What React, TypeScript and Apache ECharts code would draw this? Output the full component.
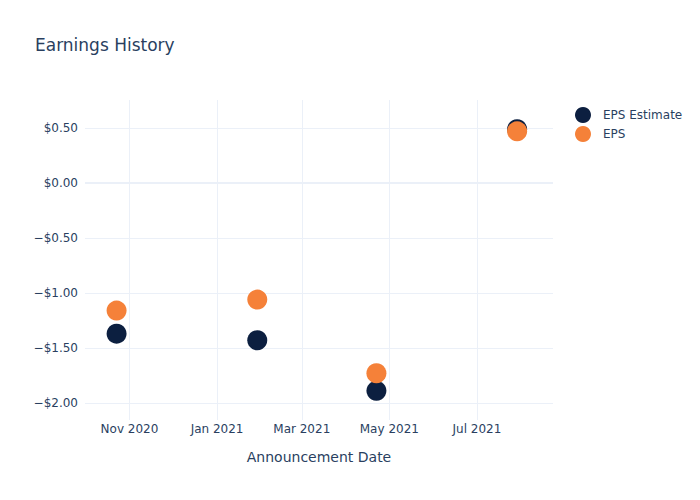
import React, { useEffect, useRef } from "react";
import * as echarts from "echarts";

const dates = ["2020-10-23", "2021-01-29", "2021-04-22", "2021-07-29"];
const epsEstimate = [-1.37, -1.43, -1.89, 0.49];
const eps = [-1.16, -1.06, -1.73, 0.47];
const monthNames = ["Jan", "Feb", "Mar", "Apr", "May", "Jun", "Jul", "Aug", "Sep", "Oct", "Nov", "Dec"];

const FONT = "DejaVu Sans";
const TEXT = "#2a3f5f";
const GRID = "#EBF0F8";

export default function App() {
  const ref = useRef<HTMLDivElement>(null);
  useEffect(() => {
    if (!ref.current) return;
    const chart = echarts.init(ref.current, undefined, { renderer: "svg" });
    chart.setOption({
      animation: false,
      backgroundColor: "#ffffff",
      textStyle: { fontFamily: FONT },
      title: {
        text: "Earnings History",
        left: 30,
        top: 31,
        textStyle: { fontFamily: FONT, fontSize: 17, fontWeight: "normal", color: TEXT },
      },
      legend: {
        orient: "vertical",
        left: 570,
        top: 102,
        itemGap: 3,
        itemWidth: 16,
        itemHeight: 16,
        icon: "circle",
        textStyle: { fontFamily: FONT, fontSize: 12, color: TEXT, padding: [0, 0, 0, 7] },
        data: ["EPS Estimate", "EPS"],
      },
      grid: { left: 85, right: 147, top: 100, bottom: 80, containLabel: false },
      xAxis: {
        type: "time",
        min: new Date("2020-10-01").getTime(),
        max: new Date("2021-08-23").getTime(),
        splitNumber: 5,
        name: "Announcement Date",
        nameLocation: "middle",
        nameGap: 30,
        nameTextStyle: { fontFamily: FONT, fontSize: 14, color: TEXT },
        axisLine: { show: false },
        axisTick: { show: false },
        axisLabel: {
          margin: 3,
          fontFamily: FONT,
          fontSize: 12,
          color: TEXT,
          showMinLabel: false,
          showMaxLabel: false,
          formatter: (v: number) => {
            const d = new Date(v);
            return `${monthNames[d.getMonth()]} ${d.getFullYear()}`;
          },
        },
        splitLine: { show: true, showMinLine: false, showMaxLine: false, lineStyle: { color: GRID, width: 1 } },
        minorTick: { show: false },
      },
      yAxis: {
        type: "value",
        min: -2.155,
        max: 0.755,
        splitNumber: 6,
        axisLine: { show: false },
        axisTick: { show: false },
        axisLabel: {
          margin: 7,
          fontFamily: FONT,
          fontSize: 12,
          color: TEXT,
          showMinLabel: false,
          showMaxLabel: false,
          formatter: (v: number) => (v < 0 ? "\u2212$" : "$") + Math.abs(v).toFixed(2),
        },
        splitLine: { show: true, showMinLine: false, showMaxLine: false, lineStyle: { color: GRID, width: 1 } },
      },
      series: [
        {
          name: "EPS Estimate",
          type: "scatter",
          symbolSize: 20,
          itemStyle: { color: "#0c1f40", opacity: 1 },
          data: dates.map((d, i) => [d, epsEstimate[i]]),
          markLine: {
            silent: true,
            symbol: "none",
            label: { show: false },
            lineStyle: { color: GRID, width: 2, type: "solid" },
            data: [{ yAxis: 0 }],
            z: 0,
          },
        },
        {
          name: "EPS",
          type: "scatter",
          symbolSize: 20,
          itemStyle: { color: "#f58139", opacity: 1 },
          data: dates.map((d, i) => [d, eps[i]]),
        },
      ],
    });
    return () => chart.dispose();
  }, []);
  return (
    <div
      ref={ref}
      style={{ position: "fixed", left: 0, top: 0, width: 700, height: 500 }}
    />
  );
}
